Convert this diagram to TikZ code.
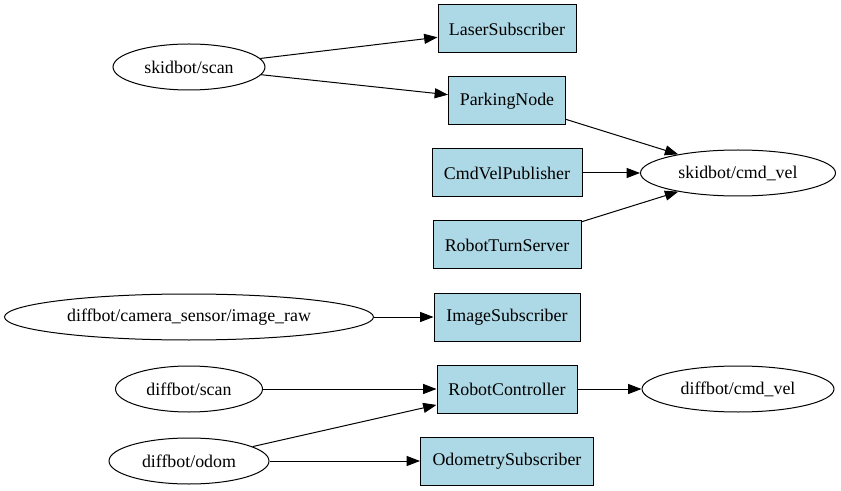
\documentclass[tikz,border=0pt]{standalone}
\usepackage{fontspec}
\setmainfont{Liberation Serif}
\usepackage{xcolor}
\usetikzlibrary{shapes,arrows.meta,calc}
\definecolor{boxblue}{RGB}{173,216,230}

\begin{document}
\begin{tikzpicture}[
    x=0.75pt, y=-0.75pt,
    font=\fontsize{13.4}{16}\selectfont,
    topic/.style={ellipse, draw, line width=0.75pt, inner sep=0pt, minimum height=34.5pt},
    box/.style={rectangle, draw, line width=0.75pt, fill=boxblue, inner sep=0pt, minimum height=36pt},
    arrow/.style={-{Triangle[length=10pt,width=7.5pt]}, line width=0.75pt}
]
\useasboundingbox (0,0) rectangle (841,491);

% processing nodes
\node[box, minimum width=103.5pt] (laser) at (507,29) {LaserSubscriber};
\node[box, minimum width=87.75pt] (parking) at (507,101) {ParkingNode};
\node[box, minimum width=112.5pt] (cmdpub) at (507,173) {CmdVelPublisher};
\node[box, minimum width=111pt] (turn) at (507,245) {RobotTurnServer};
\node[box, minimum width=109.5pt] (imgsub) at (507,317) {ImageSubscriber};
\node[box, minimum width=105pt] (ctrl) at (507,389) {RobotController};
\node[box, minimum width=129.75pt] (odomsub) at (507,461) {OdometrySubscriber};

% topics
\node[topic, minimum width=114pt] (skidscan) at (189,67) {skidbot/scan};
\node[topic, minimum width=146.25pt] (skidvel) at (738,173) {skidbot/cmd\_vel};
\node[topic, minimum width=276.75pt] (camera) at (189,317) {diffbot/camera\_sensor/image\_raw};
\node[topic, minimum width=110.25pt] (diffscan) at (189,389) {diffbot/scan};
\node[topic, minimum width=144pt] (diffvel) at (738,389) {diffbot/cmd\_vel};
\node[topic, minimum width=120pt] (odom) at (189,461) {diffbot/odom};

\draw[arrow] (skidscan) -- (laser);
\draw[arrow] (skidscan) -- (parking);
\draw[arrow] (parking) -- (skidvel);
\draw[arrow] (cmdpub) -- (skidvel);
\draw[arrow] (turn) -- (skidvel);
\draw[arrow] (camera) -- (imgsub);
\draw[arrow] (diffscan) -- (ctrl);
\draw[arrow] (ctrl) -- (diffvel);
\draw[arrow] (odom) -- (ctrl);
\draw[arrow] (odom) -- (odomsub);
\end{tikzpicture}
\end{document}
